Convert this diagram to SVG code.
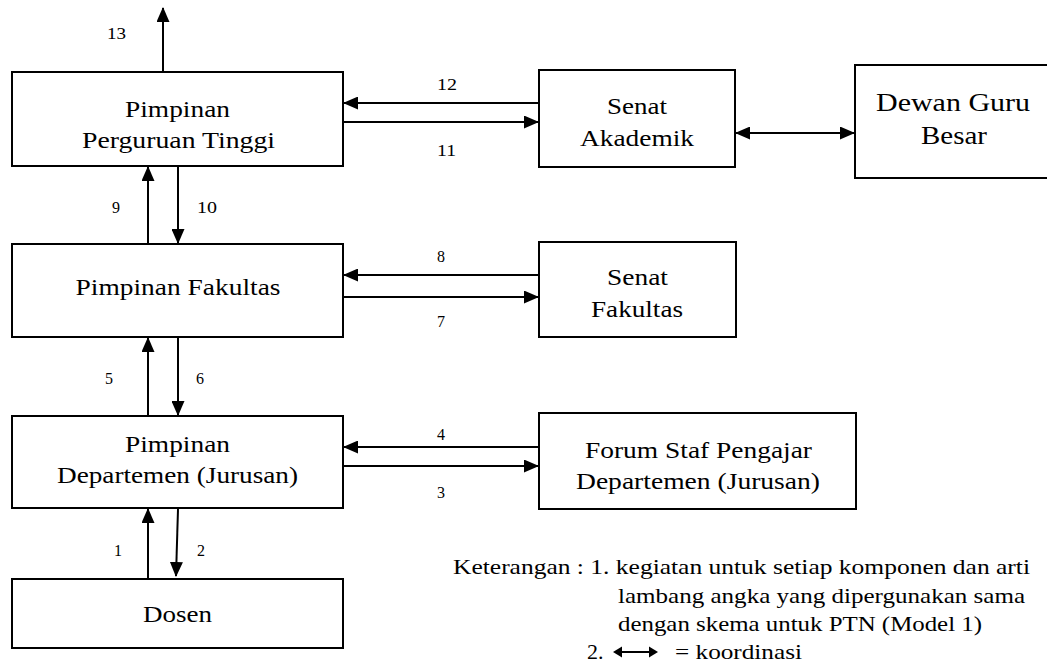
<svg xmlns="http://www.w3.org/2000/svg" width="1047" height="664" viewBox="0 0 1047 664" font-family="'Liberation Serif', Tinos, 'Times New Roman', Times, 'Noto Serif', 'DejaVu Serif', serif">
<style>
  .box { fill: #ffffff; stroke: #000000; stroke-width: 2; }
  text { fill: #000000; }
  .t { font-size: 24px; text-anchor: middle; }
  .big { font-size: 26px; }
  .num { font-size: 16px; }
  .leg { font-size: 22px; }
  .c { stroke: #000000; stroke-width: 2; fill: none; marker-end: url(#ah); }
  .cc { stroke: #000000; stroke-width: 2; fill: none; marker-start: url(#ah); marker-end: url(#ah); }
</style>
<defs>
  <marker id="ah" viewBox="0 0 15 13" refX="14" refY="6.5" markerWidth="15" markerHeight="13" markerUnits="userSpaceOnUse" orient="auto-start-reverse">
    <path d="M0,0 L15,6.5 L0,13 z" fill="#000000"/>
  </marker>
</defs>
<rect width="1047" height="664" fill="#ffffff"/>

<g id="pimpinan-pt">
  <rect class="box" x="12" y="72" width="331" height="94"/>
  <text class="t" x="177.5" y="117" textLength="105" lengthAdjust="spacingAndGlyphs">Pimpinan</text>
  <text class="t" x="178.5" y="148" textLength="193" lengthAdjust="spacingAndGlyphs">Perguruan Tinggi</text>
</g>
<g id="senat-akademik">
  <rect class="box" x="539" y="70" width="196" height="97"/>
  <text class="t" x="637" y="114" textLength="60" lengthAdjust="spacingAndGlyphs">Senat</text>
  <text class="t" x="637" y="146" textLength="114" lengthAdjust="spacingAndGlyphs">Akademik</text>
</g>
<g id="dewan-guru-besar">
  <rect class="box" x="855" y="65" width="195" height="113"/>
  <text class="t big" x="953" y="111" textLength="154" lengthAdjust="spacingAndGlyphs">Dewan Guru</text>
  <text class="t big" x="954" y="144" textLength="66" lengthAdjust="spacingAndGlyphs">Besar</text>
</g>
<g id="pimpinan-fakultas">
  <rect class="box" x="12" y="244" width="331" height="93"/>
  <text class="t" x="178" y="295" textLength="205" lengthAdjust="spacingAndGlyphs">Pimpinan Fakultas</text>
</g>
<g id="senat-fakultas">
  <rect class="box" x="539" y="242" width="197" height="95"/>
  <text class="t" x="637.5" y="285" textLength="61" lengthAdjust="spacingAndGlyphs">Senat</text>
  <text class="t" x="637" y="317" textLength="92" lengthAdjust="spacingAndGlyphs">Fakultas</text>
</g>
<g id="pimpinan-departemen">
  <rect class="box" x="12" y="416" width="331" height="92"/>
  <text class="t" x="177.5" y="452" textLength="105" lengthAdjust="spacingAndGlyphs">Pimpinan</text>
  <text class="t" x="177.5" y="483" textLength="241" lengthAdjust="spacingAndGlyphs">Departemen (Jurusan)</text>
</g>
<g id="forum-staf">
  <rect class="box" x="539" y="413" width="317" height="96"/>
  <text class="t" x="698.5" y="458" textLength="227" lengthAdjust="spacingAndGlyphs">Forum Staf Pengajar</text>
  <text class="t" x="698" y="489" textLength="244" lengthAdjust="spacingAndGlyphs">Departemen (Jurusan)</text>
</g>
<g id="dosen">
  <rect class="box" x="12" y="579" width="331" height="69"/>
  <text class="t" x="177.5" y="622" textLength="69" lengthAdjust="spacingAndGlyphs">Dosen</text>
</g>

<g id="connectors">
  <line class="c" x1="163" y1="72" x2="163" y2="8"/>
  <line class="c" x1="539" y1="103" x2="344" y2="103"/>
  <line class="c" x1="344" y1="122" x2="538" y2="122"/>
  <line class="c" x1="148" y1="243" x2="148" y2="167"/>
  <line class="c" x1="178" y1="167" x2="178" y2="243"/>
  <line class="cc" x1="736" y1="133" x2="854" y2="133"/>
  <line class="c" x1="539" y1="275" x2="344" y2="275"/>
  <line class="c" x1="344" y1="297" x2="538" y2="297"/>
  <line class="c" x1="148" y1="415" x2="148" y2="338"/>
  <line class="c" x1="178" y1="338" x2="178" y2="415"/>
  <line class="c" x1="539" y1="447" x2="344" y2="447"/>
  <line class="c" x1="344" y1="466" x2="538" y2="466"/>
  <line class="c" x1="148" y1="578" x2="148" y2="509"/>
  <line class="c" x1="178" y1="509" x2="176" y2="576"/>
</g>

<g id="labels">
  <text class="num" x="107" y="39" textLength="19" lengthAdjust="spacingAndGlyphs">13</text>
  <text class="num" x="437" y="90" textLength="20" lengthAdjust="spacingAndGlyphs">12</text>
  <text class="num" x="437" y="156" textLength="19" lengthAdjust="spacingAndGlyphs">11</text>
  <text class="num" x="112" y="213">9</text>
  <text class="num" x="197" y="213" textLength="20" lengthAdjust="spacingAndGlyphs">10</text>
  <text class="num" x="437" y="262">8</text>
  <text class="num" x="437" y="327">7</text>
  <text class="num" x="105" y="384">5</text>
  <text class="num" x="196" y="384">6</text>
  <text class="num" x="437" y="440">4</text>
  <text class="num" x="437" y="498">3</text>
  <text class="num" x="114" y="556">1</text>
  <text class="num" x="197" y="556">2</text>
</g>

<g id="legend">
  <text class="leg" x="453" y="574" textLength="577" lengthAdjust="spacingAndGlyphs">Keterangan : 1. kegiatan untuk setiap komponen dan arti</text>
  <text class="leg" x="618" y="603" textLength="407" lengthAdjust="spacingAndGlyphs">lambang angka yang dipergunakan sama</text>
  <text class="leg" x="618" y="631" textLength="364" lengthAdjust="spacingAndGlyphs">dengan skema untuk PTN (Model 1)</text>
  <text class="leg" x="587" y="659">2.</text>
  <line x1="619" y1="652" x2="652" y2="652" stroke="#000000" stroke-width="2"/>
  <polygon points="613,652 622,646.5 622,657.5" fill="#000000"/>
  <polygon points="658,652 649,646.5 649,657.5" fill="#000000"/>
  <text class="leg" x="675" y="659" textLength="127" lengthAdjust="spacingAndGlyphs">= koordinasi</text>
</g>
</svg>
